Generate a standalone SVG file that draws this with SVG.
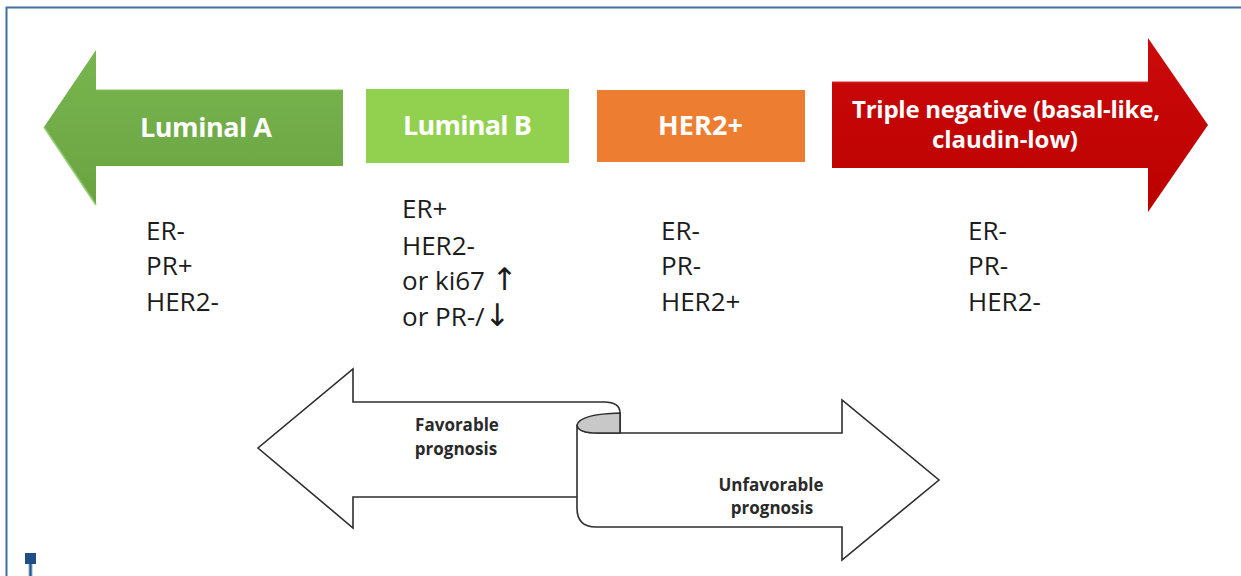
<svg xmlns="http://www.w3.org/2000/svg" width="1241" height="576" viewBox="0 0 1241 576">
  <style>
    .lbl { font-family: "Open Sans", "Liberation Sans", sans-serif; font-weight: 700; fill: #ffffff; text-anchor: middle; }
    .mk { font-family: "Open Sans", "Liberation Sans", sans-serif; font-size: 26px; fill: #1c1c1c; }
    .arw { font-family: "DejaVu Sans", sans-serif; font-size: 31px; fill: #1c1c1c; }
    .prog { font-family: "Open Sans", "Liberation Sans", sans-serif; font-weight: 700; font-size: 17px; fill: #2a2a2a; text-anchor: middle; }
    .rib { fill: #ffffff; stroke: #2e2e2e; stroke-width: 1.6; stroke-linejoin: miter; }
    .frame { stroke: #40709f; stroke-width: 2; fill: none; }
  </style>
  <defs>
    <linearGradient id="gA" x1="0" y1="0" x2="0" y2="1">
      <stop offset="0" stop-color="#79b54f"/>
      <stop offset="1" stop-color="#69a441"/>
    </linearGradient>
    <linearGradient id="gT" x1="0" y1="0" x2="0" y2="1">
      <stop offset="0" stop-color="#cc0a0a"/>
      <stop offset="1" stop-color="#bb0000"/>
    </linearGradient>
  </defs>

  <rect x="0" y="0" width="1241" height="576" fill="#ffffff"/>

  <!-- frame -->
  <g id="frame">
    <path class="frame" d="M6.5,576 L6.5,7.5 L1242,7.5"/>
    <rect x="28.5" y="560" width="4" height="16" fill="#8eaed0"/>
    <rect x="29.5" y="560" width="2" height="16" fill="#24558c"/>
    <rect x="25" y="553" width="11" height="11" fill="#1f4e84"/>
  </g>

  <!-- Luminal A -->
  <g id="luminal-a">
    <path d="M44,127 L96,50 L96,90 L343,90 L343,166 L96,166 L96,205 Z" fill="url(#gA)"/>
    <path d="M44,127 L96,205" stroke="#8cc86a" stroke-width="2" fill="none" opacity="0.8"/>
    <path d="M96,90 L343,90" stroke="#86c062" stroke-width="1.5" fill="none" opacity="0.7"/>
    <text class="lbl" x="206" y="137" font-size="27" textLength="132">Luminal A</text>
  </g>

  <!-- Luminal B -->
  <g id="luminal-b">
    <rect x="366" y="89" width="203" height="74" fill="#92d050"/>
    <text class="lbl" x="467.5" y="135" font-size="27" textLength="129">Luminal B</text>
  </g>

  <!-- HER2+ -->
  <g id="her2">
    <rect x="597" y="90" width="208" height="72" fill="#ed7d31"/>
    <text class="lbl" x="700.5" y="135" font-size="27" textLength="85">HER2+</text>
  </g>

  <!-- Triple negative -->
  <g id="triple-negative">
    <path d="M832,82 L1148,82 L1148,38 L1208,125 L1148,212 L1148,168 L832,168 Z" fill="url(#gT)"/>
    <path d="M832,82 L1148,82" stroke="#d83030" stroke-width="1.5" fill="none" opacity="0.7"/>
    <text class="lbl" x="1006" y="118" font-size="24" textLength="308">Triple negative (basal-like,</text>
    <text class="lbl" x="1005" y="148" font-size="24" textLength="146">claudin-low)</text>
  </g>

  <!-- marker lists -->
  <g id="markers-luminal-a">
    <text class="mk" x="146" y="240">ER-</text>
    <text class="mk" x="146" y="275">PR+</text>
    <text class="mk" x="146" y="311">HER2-</text>
  </g>
  <g id="markers-luminal-b">
    <text class="mk" x="402" y="218">ER+</text>
    <text class="mk" x="402" y="255">HER2-</text>
    <text class="mk" x="402" y="290">or ki67 <tspan class="arw">↑</tspan></text>
    <text class="mk" x="402" y="326">or PR-/<tspan class="arw">↓</tspan></text>
  </g>
  <g id="markers-her2">
    <text class="mk" x="661" y="240">ER-</text>
    <text class="mk" x="661" y="275">PR-</text>
    <text class="mk" x="661" y="311">HER2+</text>
  </g>
  <g id="markers-triple-negative">
    <text class="mk" x="968" y="240">ER-</text>
    <text class="mk" x="968" y="275">PR-</text>
    <text class="mk" x="968" y="311">HER2-</text>
  </g>

  <!-- prognosis ribbon -->
  <g id="favorable">
    <path class="rib" d="M620,497 L620,413 Q620,402 604,402 L353,402 L353,369 L258,448 L353,528 L353,497 Z"/>
    <text class="prog" x="457" y="431">Favorable</text>
    <text class="prog" x="456" y="455">prognosis</text>
  </g>
  <g id="unfavorable">
    <path class="rib" d="M577,425 Q578,433 597,433 L842,433 L842,400 L939,480 L842,560 L842,527 L596,527 Q577,527 577,508 Z"/>
    <path d="M577,425 Q580,414 620,413 L620,433 L597,433 Q578,433 577,425 Z" fill="#c8c8c8" stroke="#2e2e2e" stroke-width="1.6"/>
    <text class="prog" x="771" y="491">Unfavorable</text>
    <text class="prog" x="772" y="514">prognosis</text>
  </g>

  <g id="connectors"></g>
</svg>
